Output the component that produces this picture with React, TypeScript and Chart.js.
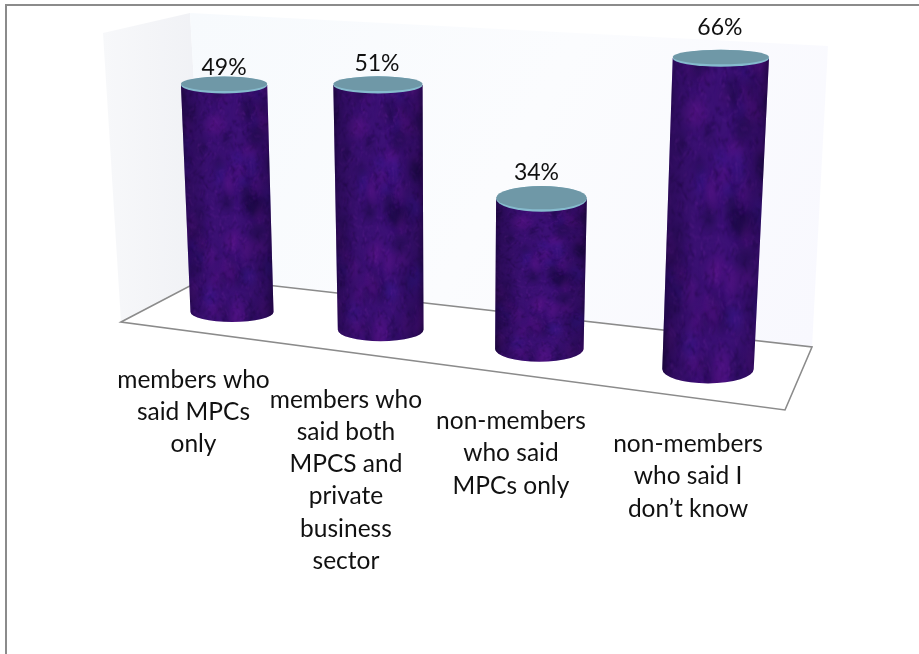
import React, { useEffect, useRef } from "react";
import { Chart, registerables } from "chart.js";

Chart.register(...registerables);

// ---- data ----
const categories: string[][] = [
  ["members who", "said MPCs", "only"],
  ["members who", "said both", "MPCS and", "private", "business", "sector"],
  ["non-members", "who said", "MPCs only"],
  ["non-members", "who said I", "don\u2019t know"],
];
const seriesValues: number[] = [49, 51, 34, 66];

// ---- 3D view calibration (not data) ----
const heightGain = [1.007, 1.044, 0.959, 1.024];
const labelShift = [-38.5, -44.7, -38.4, -20];
const valueLabelShift = [0, -1, -5, -1];
const FONT = "Lato, Carlito, Calibri, sans-serif";
const LINE = "#8b8b8b";

function makeTexture(): HTMLCanvasElement {
  const c = document.createElement("canvas");
  c.width = 220;
  c.height = 420;
  const g = c.getContext("2d")!;
  let s = 12345;
  const rnd = () => ((s = (s * 1664525 + 1013904223) >>> 0) / 4294967296);
  g.fillStyle = "#3c1176";
  g.fillRect(0, 0, 220, 420);
  g.filter = "blur(6px)";
  for (let i = 0; i < 170; i++) {
    const r = rnd();
    g.fillStyle =
      r < 0.4 ? "rgba(100,20,145,0.38)" : r < 0.55 ? "rgba(60,30,170,0.3)" : "rgba(26,10,66,0.36)";
    g.beginPath();
    g.ellipse(rnd() * 220, rnd() * 420, 5 + rnd() * 11, 5 + rnd() * 11, 0, 0, 7);
    g.fill();
  }
  g.filter = "blur(0.8px)";
  for (let i = 0; i < 1500; i++) {
    g.strokeStyle = rnd() < 0.45 ? "rgba(112,40,160,0.36)" : "rgba(24,8,58,0.42)";
    g.lineWidth = 0.7 + rnd() * 0.8;
    const x = rnd() * 220;
    const y = rnd() * 420;
    g.beginPath();
    g.moveTo(x, y);
    g.quadraticCurveTo(x + (rnd() - 0.5) * 14, y + (rnd() - 0.5) * 14, x + (rnd() - 0.5) * 18, y + (rnd() - 0.5) * 18);
    g.stroke();
  }
  g.filter = "none";
  return c;
}

const poly = (g: CanvasRenderingContext2D, pts: number[][]) => {
  g.beginPath();
  pts.forEach((p, i) => (i ? g.lineTo(p[0], p[1]) : g.moveTo(p[0], p[1])));
};

const cylinderPlugin = {
  id: "cylinders",
  beforeDatasetsDraw(chart: any) {
    const g: CanvasRenderingContext2D = chart.ctx;
    g.save();
    // frame
    g.fillStyle = LINE;
    g.fillRect(5, 4, 914, 2);
    g.fillRect(5, 4, 2, 650);
    // side wall
    let gr = g.createLinearGradient(103, 0, 205, 0);
    gr.addColorStop(0, "#f7f8fa");
    gr.addColorStop(1, "#f0f1f5");
    poly(g, [[103, 33], [190, 13], [205, 278], [121, 322]]);
    g.closePath();
    g.fillStyle = gr;
    g.fill();
    // back wall
    gr = g.createLinearGradient(190, 13, 812, 347);
    gr.addColorStop(0, "#f7fafd");
    gr.addColorStop(0.5, "#fbfcfe");
    gr.addColorStop(1, "#f8f8fe");
    poly(g, [[190, 13], [828, 46], [812, 347], [205, 278]]);
    g.closePath();
    g.fillStyle = gr;
    g.fill();
    // floor
    poly(g, [[121, 322], [205, 278], [812, 347], [785, 410]]);
    g.closePath();
    g.fillStyle = "#ffffff";
    g.fill();
    g.strokeStyle = LINE;
    g.lineWidth = 1.6;
    g.stroke();
    g.restore();
  },
  afterDatasetsDraw(chart: any) {
    const g: CanvasRenderingContext2D = chart.ctx;
    const meta = chart.getDatasetMeta(0);
    const y = chart.scales.y;
    const xs = chart.scales.x;
    const zero = y.getPixelForValue(0);
    const n = seriesValues.length - 1;
    const tex = chart.$tex || (chart.$tex = makeTexture());
    seriesValues.forEach((v, i) => {
      const el = meta.data[i];
      const t = i / n;
      // floor-plane position of the foot of the bar
      const bx = xs.getPixelForValue(i) - 45 * t * (1 - t);
      const by = 312 + 0.12 * (bx - 232);
      const h = (zero - y.getPixelForValue(v)) * heightGain[i];
      const tx = bx + (bx - 450) * 1.6e-4 * h;
      const ty = by - h;
      const bw = el.width * (0.955 + (bx - 232) * 0.000203);
      const tw = bw * (1 + h * 1.7e-4);
      const bhh = 10 + 0.009 * (bx - 232);
      const thh = Math.max(8.5, 8 + 0.2 * (50 - v) + 0.005 * (tx - 224));

      g.save();
      g.beginPath();
      g.moveTo(tx - tw / 2, ty);
      g.lineTo(bx - bw / 2, by);
      g.ellipse(bx, by, bw / 2, bhh, 0, Math.PI, 0, true);
      g.lineTo(tx + tw / 2, ty);
      g.closePath();
      g.clip();
      const L = Math.min(tx - tw / 2, bx - bw / 2) - 1;
      const W = Math.max(tw, bw) + Math.abs(tx - bx) + 2;
      g.drawImage(tex, (i * 37) % 20, (i * 61) % 60, 190, 350, L, ty - 12, W, h + bhh + 14);
      const sh = g.createLinearGradient(L, 0, L + W, 0);
      sh.addColorStop(0, "rgba(8,0,25,0.55)");
      sh.addColorStop(0.08, "rgba(8,0,25,0.28)");
      sh.addColorStop(0.3, "rgba(8,0,25,0.05)");
      sh.addColorStop(0.6, "rgba(8,0,25,0)");
      sh.addColorStop(0.9, "rgba(8,0,25,0.25)");
      sh.addColorStop(1, "rgba(8,0,25,0.6)");
      g.fillStyle = sh;
      g.fillRect(L - 2, ty - 14, W + 4, h + bhh + 30);
      g.restore();

      // cap with pale rim
      g.fillStyle = "#86bbce";
      g.beginPath();
      g.ellipse(tx, ty, tw / 2, thh, 0, 0, Math.PI * 2);
      g.fill();
      g.fillStyle = "#6f98a7";
      g.beginPath();
      g.ellipse(tx, ty - 1.2, tw / 2, thh - 1.2, 0, 0, Math.PI * 2);
      g.fill();

      // value label
      g.fillStyle = "#111111";
      g.font = `23px ${FONT}`;
      g.textAlign = "center";
      g.textBaseline = "middle";
      const lift = 17 + 0.028 * (tx - 224);
      g.fillText(`${v}%`, tx + valueLabelShift[i], ty - lift);
    });

    // category labels
    g.fillStyle = "#111111";
    g.font = `24.5px ${FONT}`;
    g.textAlign = "center";
    g.textBaseline = "middle";
    categories.forEach((lines, i) => {
      const lx = xs.getPixelForValue(i) + labelShift[i];
      const ly = 380 + 0.13 * (lx - 193.5);
      lines.forEach((s, k) => g.fillText(s, lx, ly + k * 32.2));
    });
  },
};

export default function App() {
  const ref = useRef<HTMLCanvasElement>(null);
  useEffect(() => {
    const chart = new Chart(ref.current!, {
      type: "bar",
      data: {
        labels: categories.map((c) => c.join(" ")),
        datasets: [
          {
            data: seriesValues,
            backgroundColor: "transparent",
            barPercentage: 1,
            categoryPercentage: 0.548,
          },
        ],
      },
      options: {
        animation: false,
        responsive: false,
        events: [],
        layout: { padding: { left: 152.65, right: 131.65, top: 20, bottom: 312 } },
        plugins: { legend: { display: false }, tooltip: { enabled: false } },
        scales: {
          x: { display: false },
          y: { display: false, min: 0, max: 70 },
        },
      },
      plugins: [cylinderPlugin],
    });
    return () => chart.destroy();
  }, []);
  return (
    <div style={{ position: "fixed", left: 0, top: 0, width: 919, height: 654, background: "#fff" }}>
      <canvas ref={ref} width={919} height={654} style={{ display: "block" }} />
    </div>
  );
}
